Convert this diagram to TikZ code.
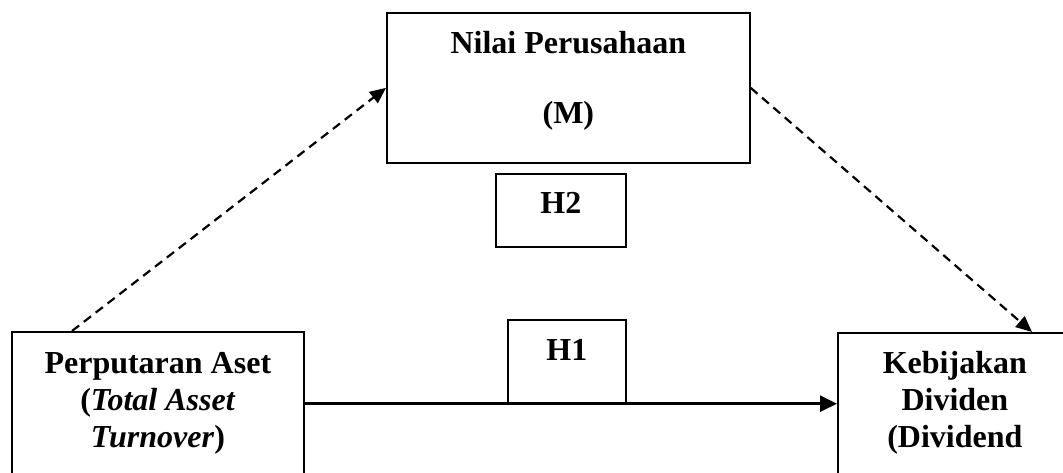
\documentclass[tikz,border=0pt]{standalone}
\usepackage{fontspec}
\setmainfont{Liberation Serif}
\usetikzlibrary{arrows.meta}

\begin{document}
\begin{tikzpicture}[x=1pt, y=-1pt,
    kotak/.style={draw, line width=1.7pt, inner sep=0pt, align=center, font=\fontsize{32}{37}\selectfont\bfseries},
    panah/.style={line width=2.6pt, -{Triangle[length=17pt, width=16pt]}},
    putus/.style={line width=2.2pt, dash pattern=on 9pt off 6pt, -{Triangle[length=16pt, width=14pt]}}]
    \useasboundingbox (0,0) rectangle (1063,472);
    \clip (0,0) rectangle (1063,472);

    % Mediasi
    \node[kotak, anchor=north west, minimum width=363pt, text height=111pt, text depth=39pt] (nilai) at (386,12) {Nilai Perusahaan\\[33pt](M)};
    \node[kotak, anchor=north west, minimum width=130pt, text height=40pt, text depth=33pt] (h2) at (495,173) {H2};

    % Variabel X dan Y
    \node[kotak, anchor=north west, minimum width=118pt, text height=41pt, text depth=42pt] (h1) at (507,319) {H1};
    \node[kotak, anchor=north west, minimum width=292pt, text height=116pt, text depth=80pt] (aset) at (11,331) {Perputaran Aset\\(\textit{Total Asset}\\\textit{Turnover})};
    \node[kotak, anchor=north west, minimum width=234pt, text height=115pt, text depth=80pt] (div) at (837,332) {Kebijakan\\Dividen\\(Dividend};

    % Panah
    \draw[panah] (aset.east |- h1.south) -- (div.west |- h1.south);
    \draw[putus] ([xshift=61pt]aset.north west) -- (nilai.west);
    \draw[putus] (nilai.east) -- ([xshift=195pt]div.north west);
\end{tikzpicture}
\end{document}
